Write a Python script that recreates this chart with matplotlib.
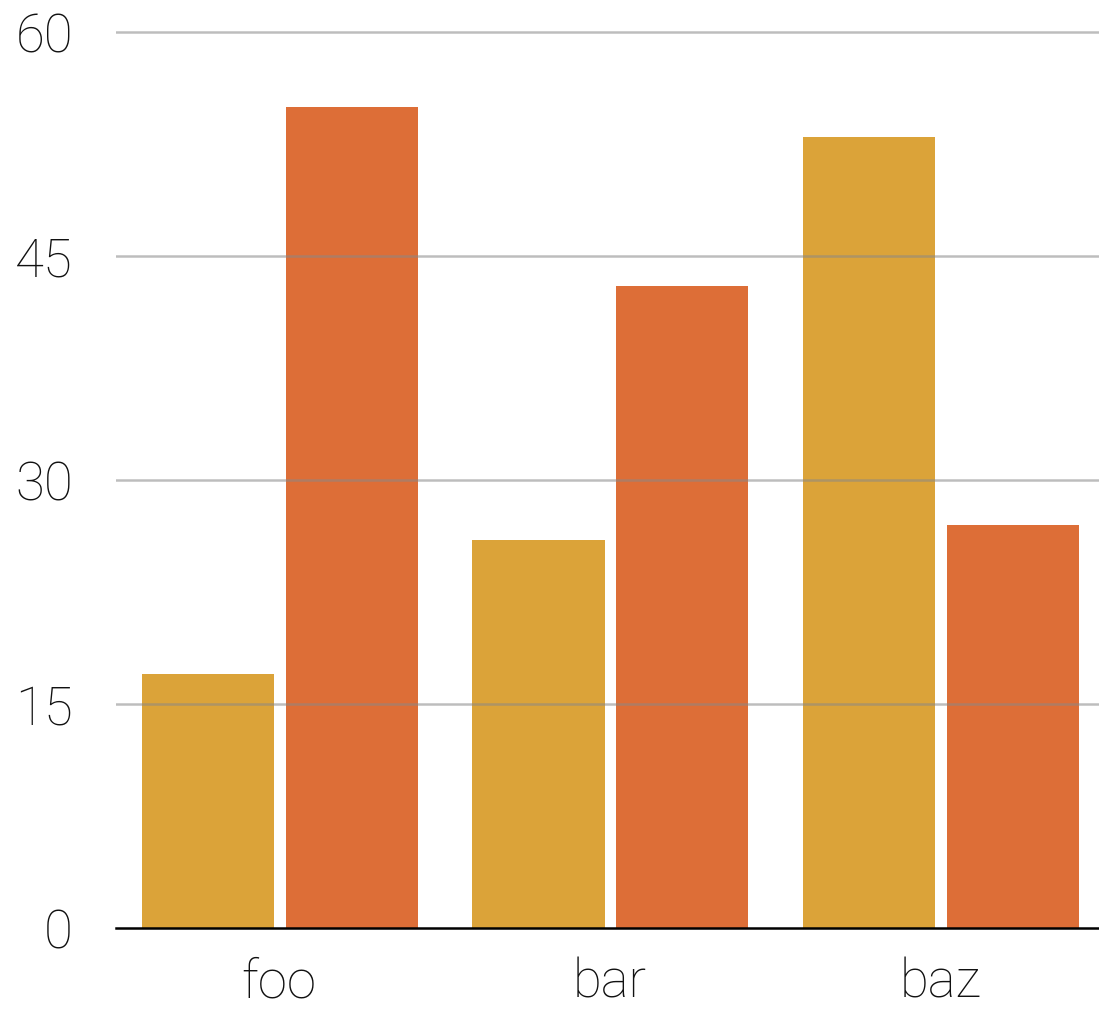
import matplotlib
matplotlib.use("Agg")
import matplotlib.pyplot as plt
import numpy as np

categories = ["foo", "bar", "baz"]
series_a = [17, 26, 53]
series_b = [55, 43, 27]
yticks = [0, 15, 30, 45, 60]

plt.rcParams['font.family'] = ['Roboto', 'DejaVu Sans']

fig = plt.figure(figsize=(10.99, 10.09), dpi=100)
ax = fig.add_axes([116/1099, (1009-928)/1009, (1099-116)/1099, (928-28)/1009])

x = np.arange(len(categories))
w = 0.4
ax.bar(x - 0.215, series_a, width=w, color='#DBA339', zorder=1)
ax.bar(x + 0.22, series_b, width=w, color='#DD6E37', zorder=1)

ax.set_xlim(-0.493, 2.481)
ax.set_ylim(0, 60 * (928-28)/896)
ax.set_yticks(yticks)
ax.set_yticklabels([str(t) for t in yticks])
ax.set_xticks(x)
ax.set_xticklabels(categories)

for t in yticks[1:]:
    ax.axhline(t, color='#888888', alpha=0.55, linewidth=1.8, zorder=3)
ax.axhline(0, color='black', linewidth=1.8, zorder=4, clip_on=False)

for s in ax.spines.values():
    s.set_visible(False)
ax.tick_params(axis='both', length=0, labelsize=38)
ax.tick_params(axis='y', pad=31)
ax.tick_params(axis='x', pad=21)
for lab in ax.get_xticklabels() + ax.get_yticklabels():
    lab.set_fontweight('light')
    lab.set_color('#111111')

fig.savefig("out.png", dpi=100, facecolor='white')
